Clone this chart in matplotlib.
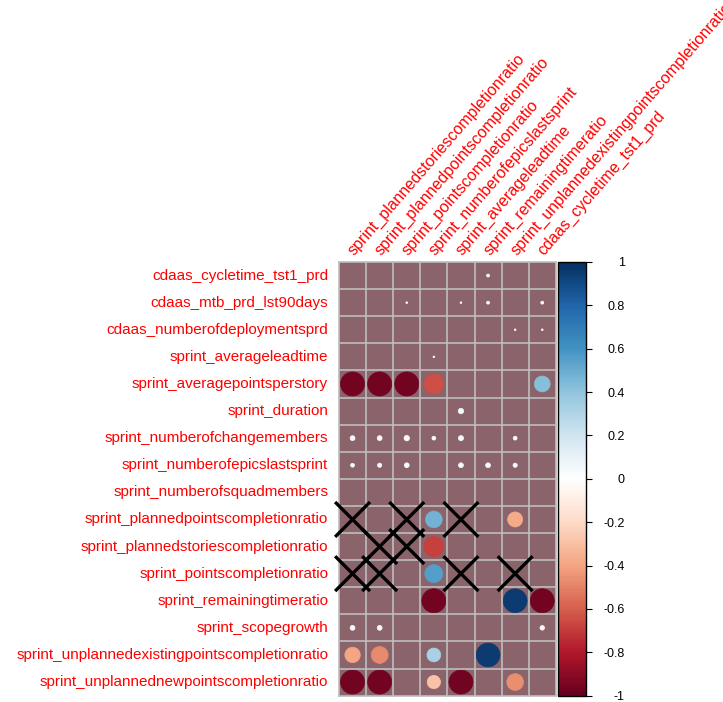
import numpy as np
import matplotlib.pyplot as plt
from matplotlib.colors import LinearSegmentedColormap, Normalize
from matplotlib.patches import Circle, Rectangle
import matplotlib.cm as cm

plt.rcParams['font.family'] = ['Liberation Sans', 'DejaVu Sans']

row_labels = ['cdaas_cycletime_tst1_prd', 'cdaas_mtb_prd_lst90days',
              'cdaas_numberofdeploymentsprd', 'sprint_averageleadtime',
              'sprint_averagepointsperstory', 'sprint_duration',
              'sprint_numberofchangemembers', 'sprint_numberofepicslastsprint',
              'sprint_numberofsquadmembers', 'sprint_plannedpointscompletionratio',
              'sprint_plannedstoriescompletionratio', 'sprint_pointscompletionratio',
              'sprint_remainingtimeratio', 'sprint_scopegrowth',
              'sprint_unplannedexistingpointscompletionratio',
              'sprint_unplannednewpointscompletionratio']

col_labels = ['sprint_plannedstoriescompletionratio', 'sprint_plannedpointscompletionratio',
              'sprint_pointscompletionratio', 'sprint_numberofepicslastsprint',
              'sprint_averageleadtime', 'sprint_remainingtimeratio',
              'sprint_unplannedexistingpointscompletionratio', 'cdaas_cycletime_tst1_prd']

# correlations (rows x cols), 0 = nothing drawn
corr = np.array([
    [0, 0, 0, 0, 0, 0.015, 0, 0],
    [0, 0, 0.005, 0, 0.005, 0.015, 0, 0.015],
    [0, 0, 0, 0, 0, 0, 0.005, 0.005],
    [0, 0, 0, 0.005, 0, 0, 0, 0],
    [-0.97, -0.97, -0.97, -0.65, 0, 0, 0, 0.42],
    [0, 0, 0, 0, 0.05, 0, 0, 0],
    [0.04, -0.04, -0.05, 0.025, 0.045, 0, 0.025, 0],
    [0.025, 0.03, 0.04, 0, 0.04, 0.04, 0.03, 0],
    [0, 0, 0, 0, 0, 0, 0, 0],
    [0, 0, 0, 0.47, 0, 0, -0.38, 0],
    [0, 0, 0, -0.68, 0, 0, 0, 0],
    [0, 0, 0, 0.55, 0, 0, 0, 0],
    [0, 0, 0, -0.97, 0, 0, 0.95, -0.97],
    [0.04, 0.04, 0, 0, 0, 0, 0, -0.035],
    [-0.4, -0.48, 0, 0.32, 0, 0.95, 0, 0],
    [-0.97, -0.97, 0, -0.3, -0.97, 0, -0.47, 0],
])

# insignificant cells (row, col) marked with a cross
cross_cells = [(9, 0), (9, 2), (9, 4), (10, 1), (10, 2),
               (11, 0), (11, 1), (11, 4), (11, 6)]

cmap = LinearSegmentedColormap.from_list('rdbu2', ["#67001F", "#B2182B", "#D6604D", "#F4A582",
                                                   "#FDDBC7", "#FFFFFF", "#D1E5F0", "#92C5DE",
                                                   "#4393C3", "#2166AC", "#053061"], N=200)
norm = Normalize(-1, 1)

W, H = 723, 702
fig = plt.figure(figsize=(W / 100, H / 100), dpi=100)
cell = 27.1
nr, nc = corr.shape
gx0, gy0 = 339, 262
ax = fig.add_axes([gx0 / W, (H - gy0 - nr * cell) / H, nc * cell / W, nr * cell / H])
ax.set_xlim(0, nc)
ax.set_ylim(nr, 0)
ax.axis('off')

ax.add_patch(Rectangle((0, 0), nc, nr, facecolor='#8A636B', edgecolor='none'))
for i in range(nc + 1):
    ax.plot([i, i], [0, nr], color='#BEBEBE', lw=1.2, clip_on=False)
for j in range(nr + 1):
    ax.plot([0, nc], [j, j], color='#BEBEBE', lw=1.2, clip_on=False)

for r in range(nr):
    for c in range(nc):
        v = corr[r, c]
        if v == 0:
            continue
        rad = 0.45 * np.sqrt(abs(v))
        ax.add_patch(Circle((c + 0.5, r + 0.5), rad, facecolor=cmap(norm(v)),
                            edgecolor=cmap(norm(v)), lw=0.5))

for r, c in cross_cells:
    d = 0.6
    ax.plot([c + 0.5 - d, c + 0.5 + d], [r + 0.5 - d, r + 0.5 + d], color='black', lw=2.4,
            clip_on=False)
    ax.plot([c + 0.5 - d, c + 0.5 + d], [r + 0.5 + d, r + 0.5 - d], color='black', lw=2.4,
            clip_on=False)

for r, lab in enumerate(row_labels):
    ax.text(-0.4, r + 0.5, lab, ha='right', va='center', color='red', fontsize=11)
for c, lab in enumerate(col_labels):
    ax.text(c + 0.65, -0.15, lab, ha='left', va='bottom', color='red', fontsize=11.5,
            rotation=49, rotation_mode='anchor')

cax = fig.add_axes([558 / W, (H - gy0 - nr * cell) / H, 28 / W, nr * cell / H])
cb = fig.colorbar(cm.ScalarMappable(norm=norm, cmap=cmap), cax=cax)
ticks = np.round(np.linspace(-1, 1, 11), 1)
cb.set_ticks(ticks)
cb.set_ticklabels(['%g' % t for t in ticks])
cb.outline.set_linewidth(1.0)
cax.tick_params(length=4, width=0.8, labelsize=9, pad=24)
for t in cax.get_yticklabels():
    t.set_ha('right')

fig.savefig('out.png', dpi=100)
